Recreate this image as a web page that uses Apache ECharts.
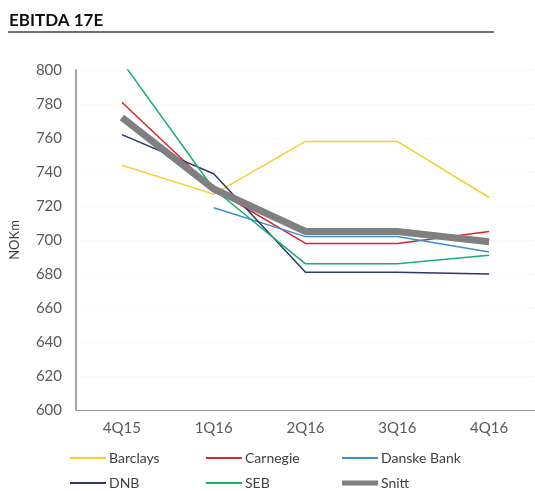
<!DOCTYPE html>
<html>
<head>
<meta charset="utf-8">
<script src="https://cdn.jsdelivr.net/npm/echarts@6/dist/echarts.min.js"></script>
<style>
  html, body { margin: 0; padding: 0; background: #fff; }
  #main { width: 535px; height: 491px; }
</style>
</head>
<body>
<div id="main"></div>
<script>
// kvartaler
const quarters = ['4Q15', '1Q16', '2Q16', '3Q16', '4Q16'];
const yTicks = [600, 620, 640, 660, 680, 700, 720, 740, 760, 780, 800];

// EBITDA 17E estimater per megler (NOKm)
const barclays = [744, 727, 758, 758, 725];
const carnegie = [781, 730, 698, 698, 705];
const danskeBank = [null, 719, 702, 702, 693];
const dnb = [762, 739, 681, 681, 680];
const seb = [805, 730, 686, 686, 691];
const snitt = [772, 730, 705, 705, 699];

const names = ['Barclays', 'Carnegie', 'Danske Bank', 'DNB', 'SEB', 'Snitt'];
const colors = ['#f2d033', '#d7262f', '#3b8fd2', '#2c3866', '#1aae6f', '#808080'];
const values = [barclays, carnegie, danskeBank, dnb, seb, snitt];

const font = 'Lato, "Open Sans", sans-serif';

// legend i to rader, tre kolonner
const legendPos = [
    { left: 70, top: 451 }, { left: 206, top: 451 }, { left: 342, top: 451 },
    { left: 70, top: 476 }, { left: 206, top: 476 }, { left: 342, top: 476 }
];

let option = {
    animation: false,
    backgroundColor: '#fff',
    graphic: [{
        type: 'text',
        left: 9,
        top: 12,
        style: {
            text: 'EBITDA 17E',
            font: 'bold 17px ' + font,
            fill: '#111'
        }
    }, {
        type: 'rect',
        shape: { x: 8, y: 31, width: 486, height: 2 },
        style: { fill: '#707070' }
    }],
    legend: names.map((n, i) => ({
        data: [n],
        left: legendPos[i].left,
        top: legendPos[i].top,
        padding: 0,
        itemWidth: 36,
        itemHeight: n === 'Snitt' ? 5 : 2,
        itemGap: 0,
        icon: 'rect',
        textStyle: { fontFamily: font, fontSize: 14, color: '#404040', padding: [0, 0, 0, -2] }
    })),
    grid: {
        left: 73,
        top: 70,
        width: 465,
        height: 340
    },
    xAxis: {
        type: 'category',
        data: quarters,
        boundaryGap: true,
        axisLine: { lineStyle: { color: '#9a9a9a', width: 1 } },
        axisTick: { show: false },
        axisLabel: { fontFamily: font, fontSize: 15, color: '#595959', margin: 11 }
    },
    yAxis: {
        type: 'value',
        min: yTicks[0],
        max: yTicks[yTicks.length - 1],
        interval: 20,
        name: 'NOKm',
        nameLocation: 'middle',
        nameGap: 55,
        nameTextStyle: { fontFamily: font, fontSize: 13, color: '#404040' },
        axisLine: { show: true, lineStyle: { color: '#888', width: 1.5 } },
        axisTick: { show: false },
        axisLabel: { fontFamily: font, fontSize: 15, color: '#595959', margin: 14 },
        splitLine: { show: true, lineStyle: { color: '#f3f3f3', type: 'dotted' } }
    },
    series: names.map((n, i) => ({
        name: n,
        type: 'line',
        data: values[i],
        symbol: 'none',
        clip: true,
        z: n === 'Snitt' ? 10 : 2,
        color: colors[i],
        lineStyle: { color: colors[i], width: n === 'Snitt' ? 7 : 1.5 },
        itemStyle: { color: colors[i] }
    }))
};

echarts.init(document.getElementById('main')).setOption(option);
</script>
</body>
</html>
